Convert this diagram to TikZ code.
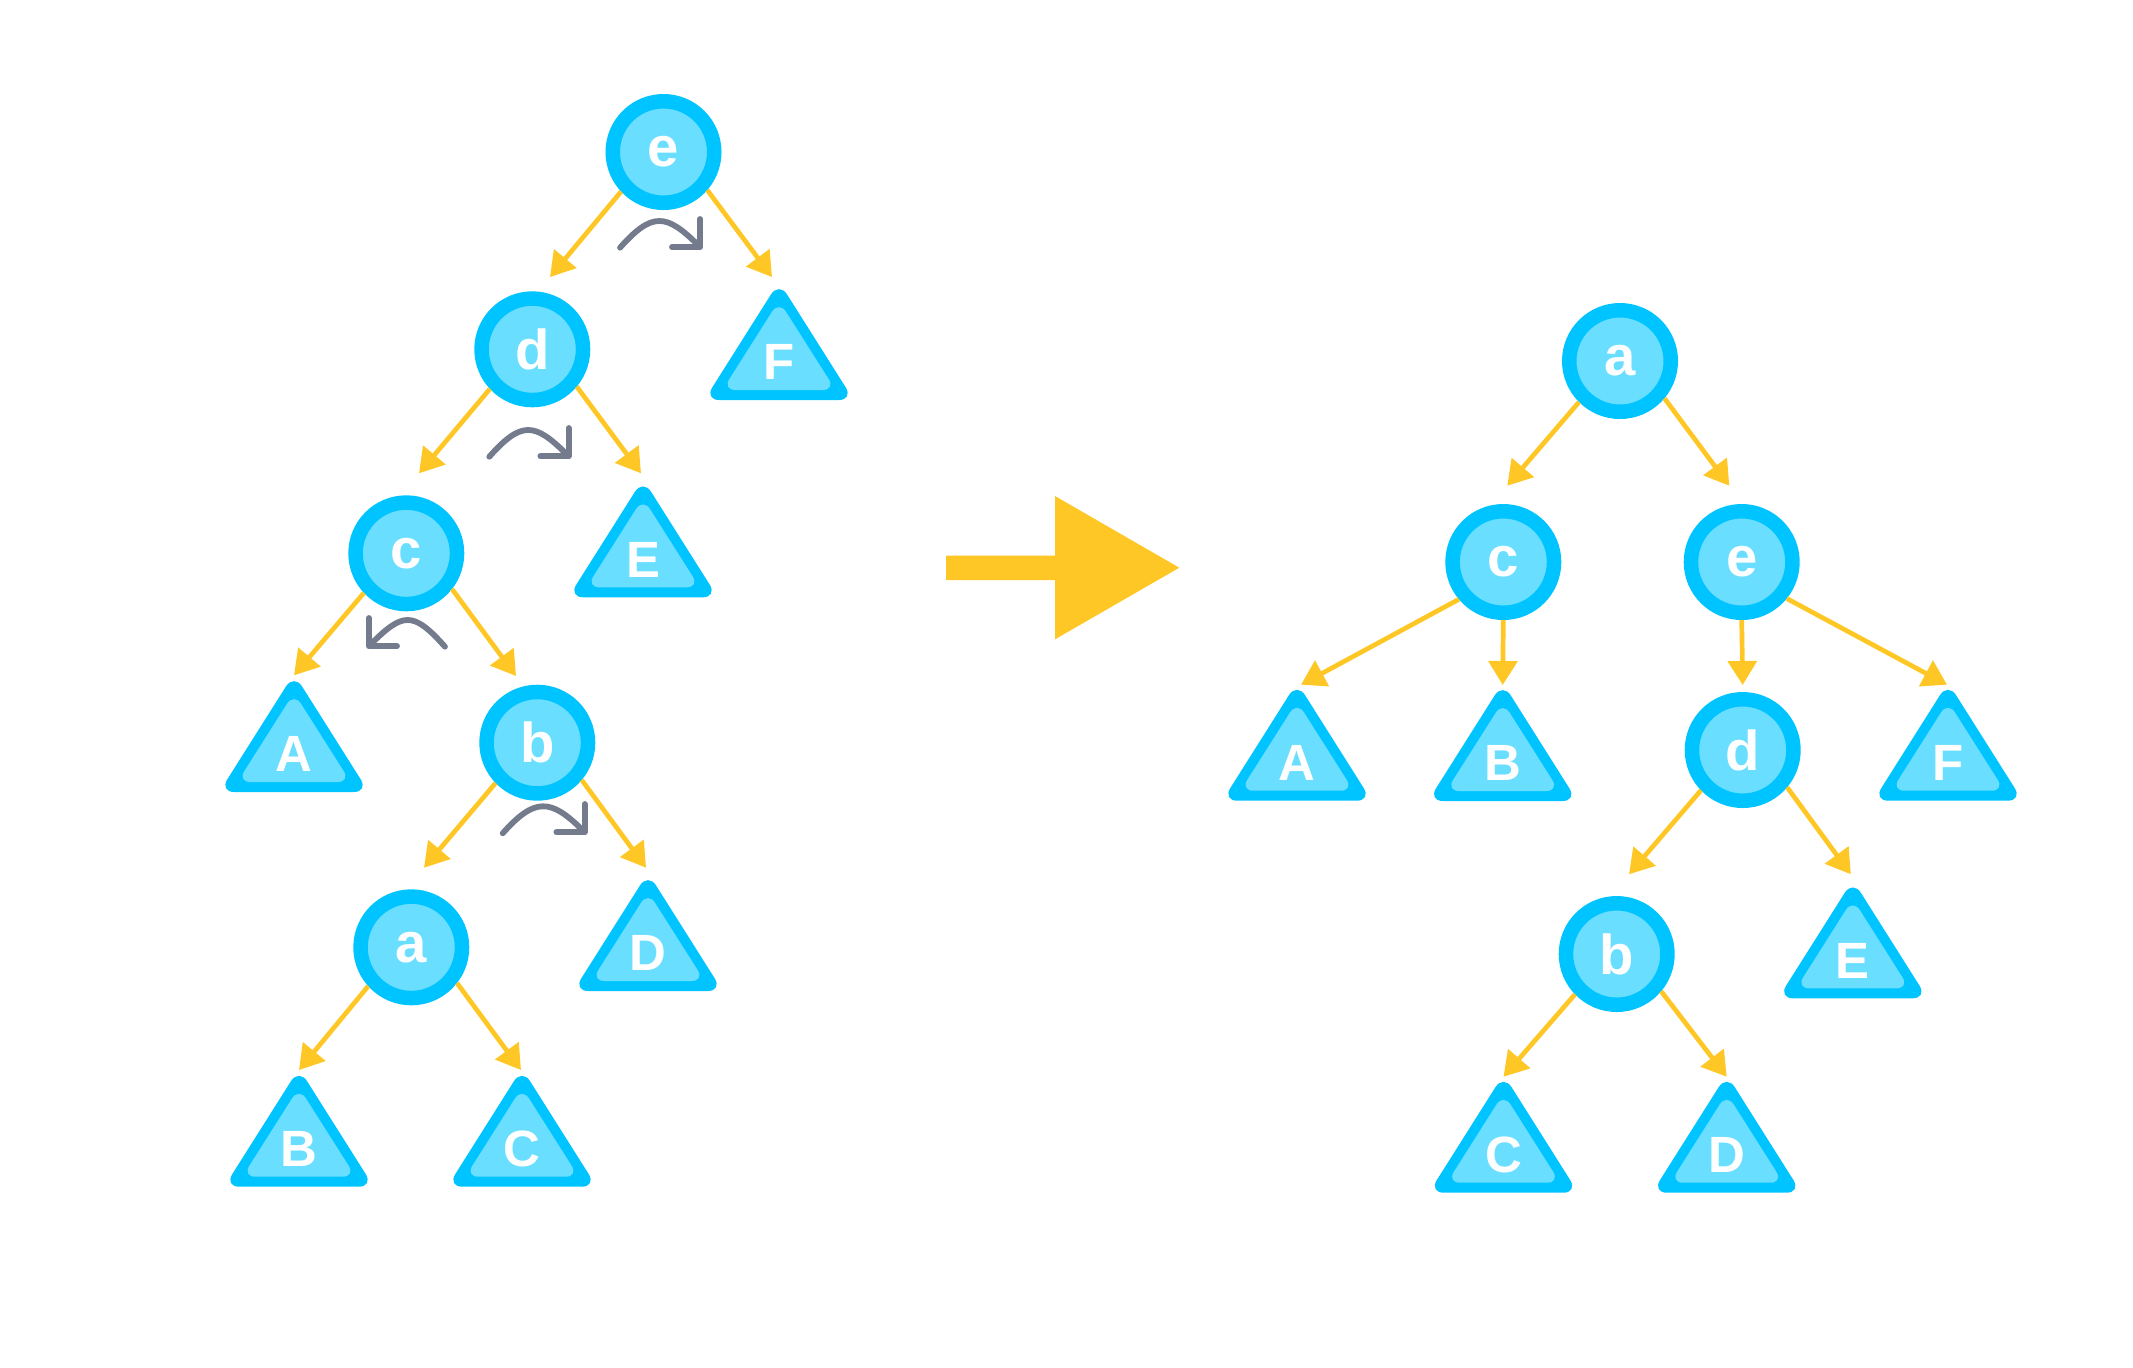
\documentclass[tikz,border=0pt]{standalone}
\usepackage{fontspec}
\setmainfont{Liberation Sans}
\usetikzlibrary{arrows.meta}
\definecolor{ringc}{RGB}{0,196,255}
\definecolor{fillc}{RGB}{106,222,255}
\definecolor{linkc}{RGB}{255,199,38}
\definecolor{turnc}{RGB}{115,123,140}
% subtree triangle: name, base centre, label
\newcommand{\subtree}[3]{%
  \begin{scope}[shift={#2}]
    \fill[ringc, rounded corners=0.15cm] (-0.747,0) -- (0,1.183) -- (0.747,0) -- cycle;
    \fill[fillc, rounded corners=0.13cm] (-0.566,0.1) -- (0,0.993) -- (0.566,0.1) -- cycle;
    \coordinate (#1-top) at (0,1.10);
    \node[leaf] (#1) at (0,0.377) {#3};
  \end{scope}}

\begin{document}
\begin{tikzpicture}[
    key/.style={circle, fill=fillc, draw=ringc, line width=0.145cm, minimum size=1.015cm,
      inner sep=0pt, outer sep=0.0725cm, text=white, font=\bfseries\fontsize{16}{16}\selectfont},
    leaf/.style={inner sep=0pt, text=white, font=\bfseries\fontsize{14.5}{14.5}\selectfont},
    link/.style={-{Triangle[length=0.24cm,width=0.285cm]}, linkc, line width=0.047cm},
    turn/.style={-{Straight Barb[length=0.2cm,width=0.4cm,round]}, turnc, line width=0.058cm, line cap=round},
  ]
    \useasboundingbox (0,0) rectangle (21.33,-13.67);
    % Left tree
    \node[key] (L-e) at (6.635,-1.52) {e};
    \node[key] (L-d) at (5.323,-3.493) {d};
    \node[key] (L-c) at (4.063,-5.533) {c};
    \node[key] (L-b) at (5.373,-7.427) {b};
    \node[key] (L-a) at (4.113,-9.473) {a};
    \subtree{L-F}{(7.79,-4.00)}{F}
    \subtree{L-E}{(6.43,-5.973)}{E}
    \subtree{L-A}{(2.94,-7.92)}{A}
    \subtree{L-D}{(6.48,-9.91)}{D}
    \subtree{L-B}{(2.99,-11.867)}{B}
    \subtree{L-C}{(5.22,-11.867)}{C}
    % Left links
    \draw[link] (L-e.223) -- ([shift={(0.177,0.723)}]L-d.center);
    \draw[link] (L-e.319) -- ([shift={(-0.07,0.13)}]L-F-top);
    \draw[link] (L-d.223) -- ([shift={(0.127,0.80)}]L-c.center);
    \draw[link] (L-d.320) -- ([shift={(-0.02,0.14)}]L-E-top);
    \draw[link] (L-c.223) -- ([shift={(0,0.067)}]L-A-top);
    \draw[link] (L-c.322) -- ([shift={(-0.213,0.667)}]L-b.center);
    \draw[link] (L-b.224) -- ([shift={(0.127,0.796)}]L-a.center);
    \draw[link] (L-b.320) -- ([shift={(-0.02,0.133)}]L-D-top);
    \draw[link] (L-a.222) -- ([shift={(0,0.067)}]L-B-top);
    \draw[link] (L-a.322) -- ([shift={(-0.01,0.067)}]L-C-top);
    % Rotation marks
    \draw[turn] (6.20,-2.477) .. controls +(0.32,0.36) and +(-0.36,0.36) .. (7.023,-2.493);
    \draw[turn] (4.893,-4.567) .. controls +(0.32,0.36) and +(-0.36,0.36) .. (5.707,-4.583);
    \draw[turn] (4.45,-6.467) .. controls +(-0.32,0.36) and +(0.36,0.36) .. (3.667,-6.483);
    \draw[turn] (5.027,-8.333) .. controls +(0.32,0.36) and +(-0.36,0.36) .. (5.867,-8.343);
    % Big arrow
    \fill[linkc] (9.46,-5.557) -- (10.55,-5.557) -- (10.55,-4.96) -- (11.793,-5.677)
      -- (10.55,-6.393) -- (10.55,-5.80) -- (9.46,-5.80) -- cycle;
    % Right tree
    \node[key] (R-a) at (16.20,-3.61) {a};
    \node[key] (R-c) at (15.033,-5.62) {c};
    \node[key] (R-e) at (17.417,-5.62) {e};
    \node[key] (R-d) at (17.427,-7.50) {d};
    \node[key] (R-b) at (16.167,-9.54) {b};
    \subtree{R-A}{(12.97,-8.007)}{A}
    \subtree{R-B}{(15.027,-8.01)}{B}
    \subtree{R-F}{(19.48,-8.007)}{F}
    \subtree{R-E}{(18.528,-9.983)}{E}
    \subtree{R-C}{(15.035,-11.927)}{C}
    \subtree{R-D}{(17.267,-11.927)}{D}
    % Right links
    \draw[link] (R-a.225) -- ([shift={(0.04,0.763)}]R-c.center);
    \draw[link] (R-a.320) -- ([shift={(-0.124,0.763)}]R-e.center);
    \draw[link] (R-c.220) -- ([shift={(0.04,0.06)}]R-A-top);
    \draw[link] (R-c.south) -- ([shift={(0,0.06)}]R-B-top);
    \draw[link] (R-e.south) -- ([shift={(0,0.65)}]R-d.center);
    \draw[link] (R-e.321) -- ([shift={(-0.01,0.06)}]R-F-top);
    \draw[link] (R-d.224) -- ([shift={(0.123,0.797)}]R-b.center);
    \draw[link] (R-d.320) -- ([shift={(-0.02,0.14)}]R-E-top);
    \draw[link] (R-b.224) -- ([shift={(0,0.06)}]R-C-top);
    \draw[link] (R-b.320) -- ([shift={(0,0.06)}]R-D-top);
\end{tikzpicture}
\end{document}
